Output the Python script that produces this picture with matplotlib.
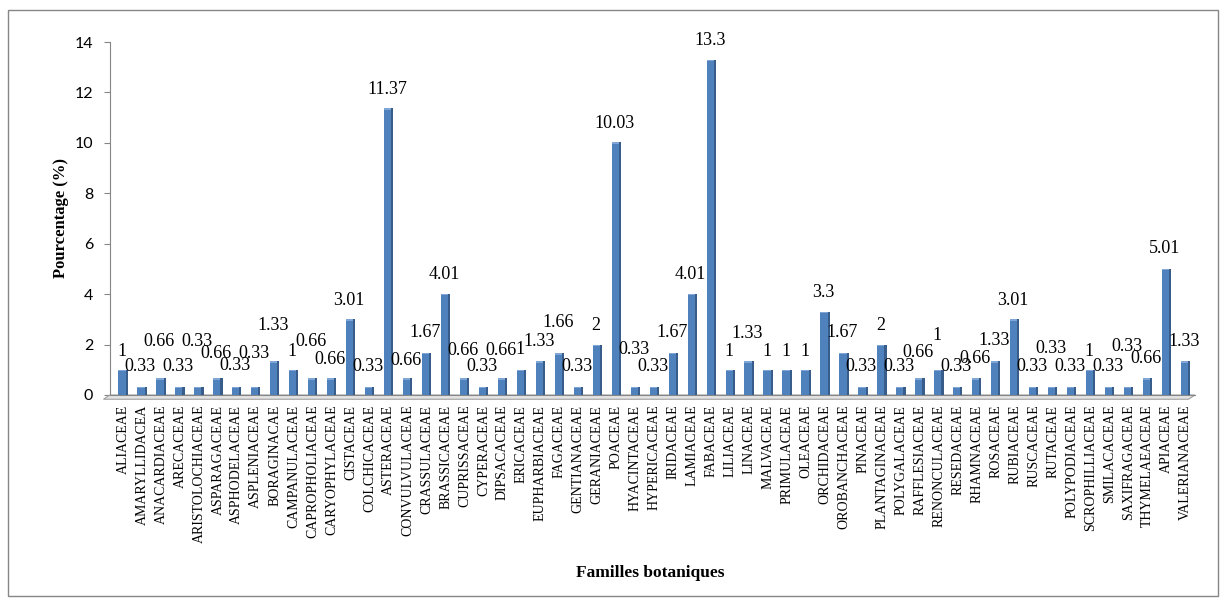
import matplotlib
matplotlib.use("Agg")
import matplotlib.pyplot as plt
from matplotlib.patches import Rectangle, Polygon
import numpy as np

# Families and their share (%) of the inventoried flora
families = [
    "ALIACEAE", "AMARYLLIDACEA", "ANACARDIACEAE", "ARECACEAE", "ARISTOLOCHIACEAE",
    "ASPARAGACEAE", "ASPHODELACEAE", "ASPLENIACEAE", "BORAGINACAE", "CAMPANULACEAE",
    "CAPROPHOLIACEAE", "CARYOPHYLACEAE", "CISTACEAE", "COLCHICACEAE", "ASTERACEAE",
    "CONVULVULACEAE", "CRASSULACEAE", "BRASSICACEAE", "CUPRISSACEAE", "CYPERACEAE",
    "DIPSACACEAE", "ERICACEAE", "EUPHARBIACEAE", "FAGACEAE", "GENTIANACEAE",
    "GERANIACEAE", "POACEAE", "HYACINTACEAE", "HYPERICACEAE", "IRIDACEAE",
    "LAMIACEAE", "FABACEAE", "LILIACEAE", "LINACEAE", "MALVACEAE",
    "PRIMULACEAE", "OLEACEAE", "ORCHIDACEAE", "OROBANCHACEAE", "PINACEAE",
    "PLANTAGINACEAE", "POLYGALACEAE", "RAFFLESIACEAE", "RENONCULACEAE", "RESEDACEAE",
    "RHAMNACEAE", "ROSACEAE", "RUBIACEAE", "RUSCACEAE", "RUTACEAE",
    "POLYPODIACEAE", "SCROPHILLIACEAE", "SMILACACEAE", "SAXIFRAGACEAE", "THYMELAEACEAE",
    "APIACEAE", "VALERIANACEAE",
]
percentages = [
    1, 0.33, 0.66, 0.33, 0.33,
    0.66, 0.33, 0.33, 1.33, 1,
    0.66, 0.66, 3.01, 0.33, 11.37,
    0.66, 1.67, 4.01, 0.66, 0.33,
    0.66, 1, 1.33, 1.66, 0.33,
    2, 10.03, 0.33, 0.33, 1.67,
    4.01, 13.3, 1, 1.33, 1,
    1, 1, 3.3, 1.67, 0.33,
    2, 0.33, 0.66, 1, 0.33,
    0.66, 1.33, 3.01, 0.33, 0.33,
    0.33, 1, 0.33, 0.33, 0.66,
    5.01, 1.33,
]
y_ticks = [0, 2, 4, 6, 8, 10, 12, 14]

# Vertical lift (pixels) of each value label above its bar top
label_lift = [
    18, 20, 37, 20, 45, 25, 21, 33, 36, 18,
    37, 19, 19, 20, 19, 18, 20, 19, 28, 20,
    28, 20, 20, 31, 20, 19, 19, 37, 20, 20,
    19, 19, 18, 28, 18, 18, 18, 19, 20, 20,
    19, 20, 26, 34, 20, 20, 21, 19, 20, 38,
    20, 18, 20, 40, 20, 20, 20,
]

W, H = 1226, 601
fig = plt.figure(figsize=(W / 100, H / 100), dpi=100)
fig.patch.set_facecolor("white")

# outer chart frame
fig.patches.append(Rectangle((8 / W, 5 / H), 1210 / W, 586 / H, transform=fig.transFigure,
                             fill=False, edgecolor="#868686", linewidth=1.0))

ax = fig.add_axes([110 / W, 1 - 395 / H, 1085 / W, 353 / H])

x = np.arange(len(families))
vals = np.array(percentages, dtype=float)

front_w = 0.38
side_w = 0.11
front_c = "#4F81BD"
side_c = "#385D8A"
top_c = "#7FA6D6"

ax.bar(x - side_w / 2, vals, width=front_w, color=front_c, edgecolor="none", zorder=3)
ax.bar(x - side_w / 2 + front_w / 2 + side_w / 2, vals, width=side_w, color=side_c,
       edgecolor="none", zorder=3)
ax.bar(x - side_w / 2, 0.06, bottom=vals - 0.06, width=front_w, color=top_c,
       edgecolor="none", zorder=4)

for xi, v, lift in zip(x, vals, label_lift):
    ax.annotate(f"{v:g}", xy=(xi, v), xytext=(-1.5, lift), textcoords="offset pixels",
                ha="center", va="center", fontsize=13, family="Liberation Serif",
                color="black", annotation_clip=False, zorder=5)

ax.set_xlim(-0.685, 56.5)
ax.set_ylim(0, 14)
ax.set_yticks(y_ticks)
ax.set_yticklabels([str(t) for t in y_ticks], fontsize=11.5, family="Lato")
ax.set_xticks(x)
ax.set_xticklabels(families, rotation=90, fontsize=10, family="Liberation Serif",
                   va="top", ha="center")

for s in ["top", "right"]:
    ax.spines[s].set_visible(False)
ax.spines["left"].set_color("#868686")
ax.spines["bottom"].set_color("#868686")
ax.tick_params(axis="y", length=4, color="#868686", pad=8, direction="out")
ax.tick_params(axis="x", length=0, pad=7)

# floor of the pseudo-3D plot area
floor = Polygon([[0.0, 0.0], [1.0, 0.0], [0.994, -0.012], [-0.006, -0.012]], closed=True,
                transform=ax.transAxes, facecolor="#E4E4E4", edgecolor="#A0A0A0",
                linewidth=0.8, clip_on=False, zorder=2)
ax.add_patch(floor)

ax.set_ylabel("Pourcentage (%)", fontsize=12, family="Liberation Serif",
              fontweight="bold", labelpad=4)
fig.text(650 / W, 1 - 573 / H, "Familles botaniques", fontsize=12.5,
         family="Liberation Serif", fontweight="bold", ha="center", va="center")

fig.savefig("out.png", dpi=100, facecolor="white")
